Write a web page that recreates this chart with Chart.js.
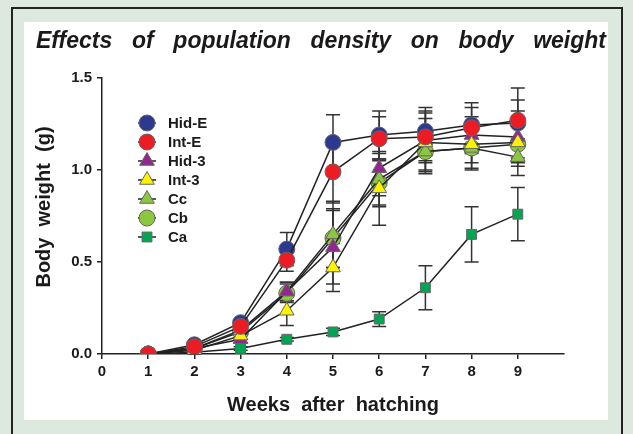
<!DOCTYPE html>
<html>
<head>
<meta charset="utf-8">
<script src="https://cdn.jsdelivr.net/npm/chart.js@4/dist/chart.umd.min.js"></script>
<style>
  html, body { margin: 0; padding: 0; background: #dde8df; }
  #wrap { width: 633px; height: 434px; position: relative; }
</style>
</head>
<body>
<div id="wrap"><canvas id="chart" width="633" height="434"></canvas></div>
<script>
// dados
const weeks = [1, 2, 3, 4, 5, 6, 7, 8, 9];
const xTicks = [0, 1, 2, 3, 4, 5, 6, 7, 8, 9];
const yTicks = [0, 0.5, 1.0, 1.5];
const seriesNames = ['Hid-E', 'Int-E', 'Hid-3', 'Int-3', 'Cc', 'Cb', 'Ca'];

const hidE = [0.00, 0.05, 0.17, 0.57, 1.15, 1.19, 1.21, 1.245, 1.255];
const intE = [0.00, 0.04, 0.15, 0.51, 0.99, 1.17, 1.18, 1.23, 1.27];
const hid3 = [0.00, 0.03, 0.08, 0.34, 0.58, 1.01, 1.16, 1.19, 1.18];
const int3 = [0.00, 0.02, 0.10, 0.235, 0.47, 0.90, 1.15, 1.14, 1.15];
const cc   = [0.00, 0.03, 0.13, 0.34, 0.65, 0.95, 1.10, 1.12, 1.07];
const cb   = [0.00, 0.03, 0.12, 0.33, 0.63, 0.93, 1.10, 1.12, 1.14];
const ca   = [0.00, 0.01, 0.03, 0.08, 0.12, 0.19, 0.36, 0.65, 0.76];

// desvios (barras de erro)
const hidESd = [0, 0.01, 0.02, 0.09, 0.15, 0.13, 0.13, 0.12, 0.19];
const intESd = [0, 0.01, 0.02, 0.06, 0.17, 0.12, 0.13, 0.11, 0.11];
const hid3Sd = [0, 0.01, 0.02, 0.05, 0.20, 0.15, 0.12, 0.10, 0.14];
const int3Sd = [0, 0.01, 0.02, 0.08, 0.13, 0.20, 0.17, 0.10, 0.10];
const ccSd   = [0, 0.01, 0.02, 0.05, 0.18, 0.14, 0.10, 0.12, 0.10];
const cbSd   = [0, 0.01, 0.02, 0.05, 0.16, 0.13, 0.11, 0.11, 0.12];
const caSd   = [0, 0.01, 0.01, 0.01, 0.02, 0.04, 0.12, 0.15, 0.145];

const FONT = "'Liberation Sans', Arial, sans-serif";

function makeSet(label, values, sd, color, style, order) {
    return {
        label: label,
        data: weeks.map((w, i) => ({ x: w, y: values[i] })),
        sd: sd,
        borderColor: '#222',
        borderWidth: 1.5,
        pointBackgroundColor: color,
        pointBorderColor: '#666',
        pointBorderWidth: 1,
        pointStyle: style,
        pointRadius: style === 'rect' ? 7 : (style === 'triangle' ? 8.5 : 8),
        pointHoverRadius: 8,
        tension: 0,
        order: order
    };
}

const datasets = [
    makeSet(seriesNames[0], hidE, hidESd, '#2b3990', 'circle', 2),
    makeSet(seriesNames[1], intE, intESd, '#ed1c24', 'circle', 1),
    makeSet(seriesNames[2], hid3, hid3Sd, '#92278f', 'triangle', 4),
    makeSet(seriesNames[3], int3, int3Sd, '#fff200', 'triangle', 3),
    makeSet(seriesNames[4], cc, ccSd, '#8dc63f', 'triangle', 5),
    makeSet(seriesNames[5], cb, cbSd, '#8dc63f', 'circle', 6),
    makeSet(seriesNames[6], ca, caSd, '#00a651', 'rect', 7)
];

// fundo, moldura e titulo
const backgroundPlugin = {
    id: 'background',
    beforeDraw(chart) {
        const ctx = chart.ctx;
        ctx.save();
        ctx.fillStyle = '#dde8df';
        ctx.fillRect(0, 0, chart.width, chart.height);
        ctx.strokeStyle = '#222';
        ctx.lineWidth = 2;
        ctx.strokeRect(12, 8, 610, 440);
        ctx.fillStyle = '#ffffff';
        ctx.fillRect(24, 22, 584, 398);

        // titulo justificado
        const words = 'Effects of population density on body weight'.split(' ');
        ctx.font = 'italic bold 23px ' + FONT;
        ctx.fillStyle = '#1a1a1a';
        ctx.textBaseline = 'alphabetic';
        const left = 36, right = 606;
        const widths = words.map(w => ctx.measureText(w).width);
        const total = widths.reduce((a, b) => a + b, 0);
        const gap = (right - left - total) / (words.length - 1);
        let x = left;
        words.forEach((w, i) => {
            ctx.fillText(w, x, 48);
            x += widths[i] + gap;
        });

        // titulo do eixo y
        ctx.font = 'bold 20px ' + FONT;
        ctx.textAlign = 'center';
        ctx.textBaseline = 'middle';
        ctx.translate(44, 207);
        ctx.rotate(-Math.PI / 2);
        ctx.fillText('Body  weight  (g)', 0, 0);
        ctx.restore();
    }
};

// barras de erro
const errorBarPlugin = {
    id: 'errorBars',
    beforeDatasetsDraw(chart) {
        const ctx = chart.ctx;
        const xs = chart.scales.x, ys = chart.scales.y;
        ctx.save();
        ctx.strokeStyle = '#333';
        ctx.lineWidth = 1.5;
        chart.data.datasets.forEach(ds => {
            ds.data.forEach((p, i) => {
                const e = ds.sd[i];
                if (!e) return;
                const px = xs.getPixelForValue(p.x);
                const top = ys.getPixelForValue(p.y + e);
                const bot = ys.getPixelForValue(Math.max(0, p.y - e));
                ctx.beginPath();
                ctx.moveTo(px, top); ctx.lineTo(px, bot);
                ctx.moveTo(px - 7, top); ctx.lineTo(px + 7, top);
                ctx.moveTo(px - 7, bot); ctx.lineTo(px + 7, bot);
                ctx.stroke();
            });
        });
        ctx.restore();
    }
};

// legenda dentro da area do grafico
const legendPlugin = {
    id: 'insideLegend',
    afterDraw(chart) {
        const ctx = chart.ctx;
        ctx.save();
        ctx.font = 'bold 15px ' + FONT;
        ctx.textBaseline = 'middle';
        chart.data.datasets.forEach((ds, i) => {
            const y = 123 + i * 19;
            ctx.strokeStyle = '#222';
            ctx.lineWidth = 1.5;
            ctx.beginPath();
            ctx.moveTo(138, y); ctx.lineTo(156, y);
            ctx.stroke();
            ctx.fillStyle = ds.pointBackgroundColor;
            ctx.strokeStyle = ds.pointBorderColor;
            ctx.lineWidth = 1;
            Chart.helpers.drawPoint(ctx, {
                pointStyle: ds.pointStyle,
                radius: ds.pointRadius,
                rotation: 0,
                borderWidth: 1
            }, 147, y);
            ctx.fillStyle = '#1a1a1a';
            ctx.fillText(ds.label, 168, y + 1);
        });
        ctx.restore();
    }
};

new Chart(document.getElementById('chart'), {
    type: 'line',
    data: { datasets: datasets },
    plugins: [backgroundPlugin, errorBarPlugin, legendPlugin],
    options: {
        responsive: false,
        animation: false,
        layout: { padding: { left: 28, right: 69, top: 78, bottom: 13 } },
        plugins: {
            legend: { display: false },
            tooltip: { enabled: false }
        },
        scales: {
            x: {
                type: 'linear',
                min: 0,
                max: 10,
                afterBuildTicks: scale => { scale.ticks = xTicks.map(v => ({ value: v })); },
                afterFit: scale => { scale.height = 67; },
                border: { color: '#222', width: 1.5 },
                grid: { display: true, drawOnChartArea: false, tickLength: 5, color: '#222', lineWidth: 1.5 },
                ticks: {
                    color: '#1a1a1a',
                    font: { family: FONT, size: 15, weight: 'bold' },
                    padding: 4,
                    maxRotation: 0
                },
                title: {
                    display: true,
                    text: 'Weeks  after  hatching',
                    color: '#1a1a1a',
                    font: { family: FONT, size: 20, weight: 'bold' },
                    padding: { top: 4 }
                }
            },
            y: {
                type: 'linear',
                min: 0,
                max: 1.5,
                afterBuildTicks: scale => { scale.ticks = yTicks.map(v => ({ value: v })); },
                afterFit: scale => { scale.width = 74; },
                border: { color: '#222', width: 1.5 },
                grid: { display: true, drawOnChartArea: false, tickLength: 5, color: '#222', lineWidth: 1.5 },
                ticks: {
                    color: '#1a1a1a',
                    font: { family: FONT, size: 15, weight: 'bold' },
                    padding: 5,
                    callback: v => v.toFixed(1)
                },
                title: { display: false }
            }
        }
    }
});
</script>
</body>
</html>
